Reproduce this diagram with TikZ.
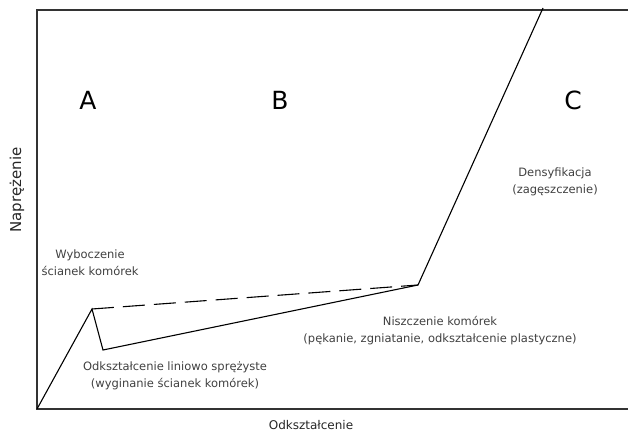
\documentclass[tikz,border=0pt]{standalone}
\usepackage{fontspec}
\setmainfont{DejaVu Sans}
\usepackage{tikz}
\usetikzlibrary{positioning,calc}

\begin{document}
\begin{tikzpicture}[x=1pt,y=-1pt,
  opis/.style={align=center,font=\fontsize{11.5}{17}\selectfont,text=black!75},
  litera/.style={font=\fontsize{25}{28}\selectfont},
  os/.style={font=\fontsize{12}{14}\selectfont,text=black!85}]
\useasboundingbox (0,0) rectangle (628,438);
% ramka
\draw[line width=1.6pt,black!80] (628,10) -- (37,10) -- (37,409) -- (628,409);
% punkty krzywej
\coordinate (o) at (37,409);
\coordinate (szczyt) at (92,309);
\coordinate (dolek) at (103,350);
\coordinate (kolano) at (418,285);
\coordinate (gora) at (543,8);
\draw[line width=1.1pt] (o) -- (szczyt) -- (dolek) -- (kolano) -- (gora);
\draw[line width=1.1pt,dash pattern=on 22pt off 9pt] (szczyt) -- (kolano);
% obszary
\node[litera] (A) at (88,100) {A};
\node[litera] (B) at (280,100) {B};
\node[litera] (C) at (573,100) {C};
% osie
\node[os,rotate=90,font=\fontsize{15}{17}\selectfont] (napr) at (17,190) {Naprężenie};
\node[os] (odks) at (311,425) {Odkształcenie};
% opisy
\node[opis] (wyb) at (90,263) {Wyboczenie\\ścianek komórek};
\node[opis] (lin) at (175,376) {Odkształcenie liniowo sprężyste\\(wyginanie ścianek komórek)};
\node[opis] (nisz) at (440,331) {Niszczenie komórek\\(pękanie, zgniatanie, odkształcenie plastyczne)};
\node[opis] (dens) at (555,182) {Densyfikacja\\(zagęszczenie)};
\end{tikzpicture}
\end{document}
